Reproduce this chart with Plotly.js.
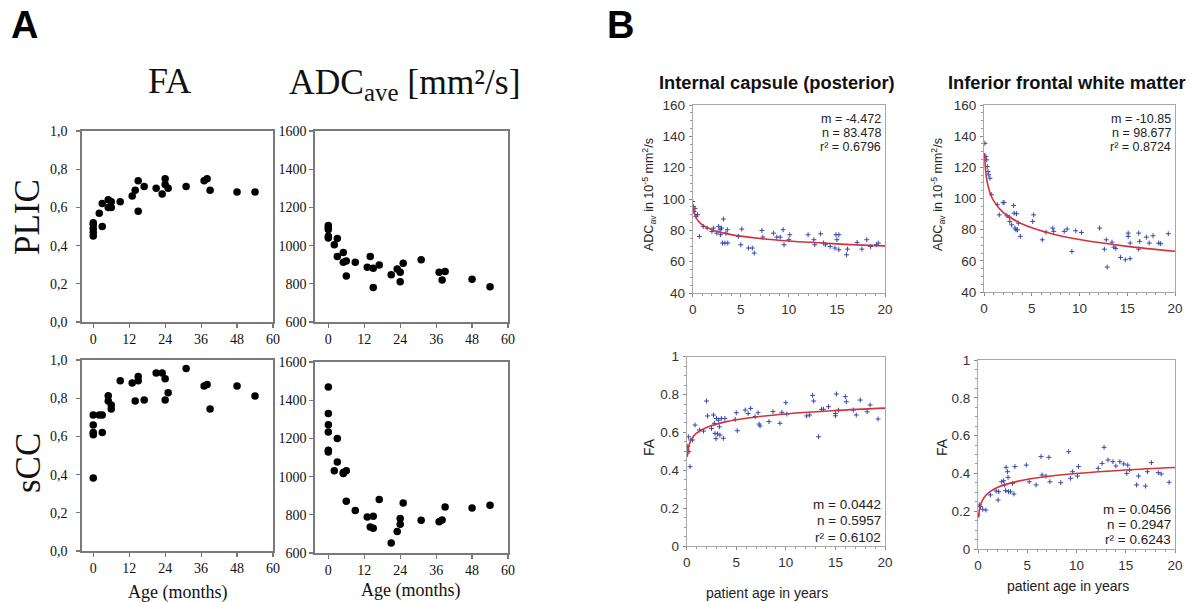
<!DOCTYPE html>
<html>
<head>
<meta charset="utf-8">
<script src="https://cdn.plot.ly/plotly-3.0.1.min.js"></script>
<style>html,body{margin:0;padding:0;background:#fff;}#chart{width:1198px;height:602px;}</style>
</head>
<body>
<div id="chart"></div>
<script>
// ---------------- Panel A data (age in months) ----------------
var plicFAMonths = [0,0,0,0,0,2,3,3,5,5,6,6,9,13,14,15,15,17,21,23,24,24,25,31,37,38,39,48,54];
var plicFA = [0.52,0.51,0.49,0.47,0.45,0.57,0.50,0.62,0.64,0.60,0.63,0.60,0.63,0.66,0.69,0.74,0.58,0.71,0.70,0.67,0.75,0.72,0.70,0.71,0.74,0.75,0.69,0.68,0.68];

var plicADCMonths = [0,0,0,0,0,2,3,3,5,5,6,6,9,13,14,15,15,17,21,23,24,24,25,31,37,38,39,48,54];
var plicADC = [1105,1093,1084,1049,1040,1005,1037,943,964,913,920,841,913,887,943,882,781,898,848,878,861,811,908,926,861,820,864,824,785];

var sccFAMonths = [0,0,0,0,0,2,3,3,5,5,6,6,9,13,14,15,15,17,21,23,24,24,25,31,37,38,39,48,54];
var sccFA = [0.712,0.660,0.621,0.609,0.382,0.712,0.712,0.621,0.813,0.785,0.764,0.743,0.892,0.880,0.785,0.914,0.892,0.791,0.932,0.932,0.902,0.791,0.828,0.955,0.864,0.872,0.743,0.864,0.812];

var sccADCMonths = [0,0,0,0,0,0,2,3,3,5,5,6,6,9,13,14,15,15,17,21,23,24,24,25,31,37,38,39,48,54];
var sccADC = [1469,1330,1272,1234,1138,1129,1031,1199,1077,1022,1016,1031,871,823,788,736,792,729,880,652,713,780,750,862,771,764,773,841,836,850];

var monthTicks = [0,12,24,36,48,60];
var faTicksA = [0,0.2,0.4,0.6,0.8,1.0];
var faTickLabelsA = ['0,0','0,2','0,4','0,6','0,8','1,0'];
var adcTicksA = [600,800,1000,1200,1400,1600];

// ---------------- Panel B data (age in years) ----------------
var icADCYears = [0,0.07,0.14,0.24,0.35,0.5,0.7,1.1,1.5,2.0,2.15,2.5,2.7,2.85,2.9,3.0,3.1,3.2,3.35,3.45,3.6,3.65,4.75,5.0,5.1,5.8,6.2,6.4,7.2,7.3,8.4,8.75,9.1,9.4,9.5,10.0,10.1,12.0,12.6,12.7,13.3,13.6,13.8,14.3,14.8,14.9,15.0,15.2,15.2,16.0,16.1,17.1,17.6,18.1,18.5,19.1,19.3];
var icADC = [98.4,95.2,92.0,94.0,88.9,90.0,76.1,82.5,81.4,79.3,81.4,78.2,82.5,80.4,77.2,81.4,71.9,87.2,71.9,78.2,80.4,71.9,76.1,70.8,80.8,68.7,68.7,65.5,79.9,75.7,78.2,75.7,75.7,80.4,70.8,74.0,77.2,77.2,74.0,70.8,77.8,71.9,70.8,69.7,68.7,77.2,74.0,67.6,77.2,64.4,68.0,72.3,68.0,74.0,69.7,70.8,71.9];

var ifwmADCYears = [0.1,0.2,0.28,0.35,0.42,0.5,0.63,0.8,1.4,2.0,2.1,1.6,2.4,2.65,2.7,2.9,3.1,3.15,3.25,3.35,3.4,3.5,3.6,3.8,5.2,5.1,6.1,6.5,7.2,7.3,8.4,8.7,9.2,9.6,10.2,12.1,12.6,12.8,12.9,13.4,13.6,13.8,14.3,14.8,15.1,15.1,15.3,15.3,16.2,16.2,16.3,17.0,17.3,17.7,18.3,18.5,19.3];
var ifwmADC = [135.4,126.9,124.8,120.5,117.3,115.2,113.0,102.4,96.0,97.4,97.4,89.5,88.9,88.0,85.3,83.1,95.5,90.6,81.0,79.9,90.2,79.9,84.2,75.7,89.5,85.3,73.5,78.4,81.0,78.9,78.9,80.4,66.0,79.3,78.2,81.0,67.5,73.5,56.0,72.0,68.8,68.0,62.2,60.7,77.8,75.7,61.4,71.4,77.8,67.5,72.5,75.2,71.4,76.1,71.4,71.0,77.4];

var icFAYears = [0,0.1,0.17,0.23,0.34,0.4,0.6,0.84,1.3,1.7,2.0,2.1,2.5,2.7,2.8,2.85,2.95,3.0,3.1,3.2,3.3,3.35,3.5,3.7,3.85,4.9,5.0,5.1,5.9,6.2,6.45,6.9,7.2,7.3,7.4,8.3,8.7,9.4,9.6,10.0,10.1,12.1,12.4,12.7,12.8,13.3,13.6,13.8,14.3,15.0,15.0,15.1,15.3,16.0,16.1,16.8,17.1,17.5,18.2,18.5,19.3];
var icFA = [0.507,0.525,0.577,0.498,0.419,0.56,0.56,0.639,0.613,0.607,0.766,0.687,0.621,0.692,0.648,0.595,0.567,0.674,0.592,0.665,0.630,0.586,0.674,0.569,0.674,0.669,0.704,0.609,0.718,0.700,0.727,0.683,0.704,0.644,0.634,0.657,0.710,0.648,0.706,0.757,0.697,0.687,0.692,0.796,0.766,0.577,0.722,0.722,0.736,0.700,0.688,0.803,0.718,0.789,0.762,0.718,0.692,0.771,0.709,0.745,0.671];

var ifwmFAYears = [0,0.14,0.24,0.48,0.8,1.26,1.84,2.04,2.1,2.4,2.6,2.7,2.8,2.85,3.0,3.05,3.1,3.3,3.5,3.65,3.75,4.9,5.2,5.9,6.4,6.5,6.9,7.2,7.3,8.4,9.2,9.4,9.6,10.1,10.2,12.2,12.6,12.8,13.2,13.7,14.0,14.4,14.8,15.1,15.2,15.4,16.1,16.3,17.0,17.2,17.6,18.3,18.6,19.4];
var ifwmFA = [0.18,0.233,0.224,0.21,0.206,0.286,0.307,0.259,0.303,0.356,0.361,0.339,0.309,0.432,0.409,0.379,0.303,0.303,0.347,0.291,0.436,0.444,0.356,0.339,0.489,0.392,0.386,0.485,0.356,0.351,0.515,0.374,0.409,0.386,0.436,0.427,0.453,0.538,0.471,0.462,0.439,0.462,0.45,0.40,0.444,0.418,0.339,0.386,0.333,0.409,0.457,0.404,0.397,0.353];

// fitted (red) curves
var fitYears = [0.06,0.15,0.3,0.6,1,2,4,7,10,15,20];
var icADCFit = [96.1,91.96,88.86,85.76,83.48,80.38,77.28,74.78,73.18,71.37,70.08];
var ifwmADCFit = [129.2,119.26,111.74,104.22,98.68,91.16,83.64,77.56,73.69,69.29,66.17];
var icFAFit = [0.471,0.512,0.5425,0.573,0.5957,0.6263,0.657,0.6817,0.6975,0.7154,0.7281];
var ifwmFAFit = [0.167,0.2082,0.2398,0.2714,0.2947,0.3263,0.3579,0.3834,0.3997,0.4182,0.4313];

var yearTicks = [0,5,10,15,20];
var adcTicksB = [40,60,80,100,120,140,160];
var faTicksB = [0,0.2,0.4,0.6,0.8,1];
var faTickLabelsB = ['0','0.2','0.4','0.6','0.8','1'];

var statsB = [
  ['m = -4.472','n = 83.478','r\u00b2 = 0.6796'],
  ['m = -10.85','n = 98.677','r\u00b2 = 0.8724'],
  ['m = 0.0442','n = 0.5957','r\u00b2 = 0.6102'],
  ['m = 0.0456','n = 0.2947','r\u00b2 = 0.6243']
];

// ---------------- layout helpers (pixel -> paper) ----------------
var W = 1198, H = 602;
function fx(p){ return p / W; }
function fy(p){ return 1 - p / H; }

var SERIF = 'Liberation Serif, Times New Roman, serif';
var SANS = 'Liberation Sans, Arial, sans-serif';

var traces = [];
function dots(x, y, xa, ya){
  traces.push({type:'scatter', mode:'markers', x:x, y:y, xaxis:xa, yaxis:ya,
    marker:{color:'#000', size:7.5, symbol:'circle'}});
}
dots(plicFAMonths, plicFA, 'x', 'y');
dots(plicADCMonths, plicADC, 'x2', 'y2');
dots(sccFAMonths, sccFA, 'x3', 'y3');
dots(sccADCMonths, sccADC, 'x4', 'y4');

function crosses(x, y, n){
  traces.push({type:'scatter', mode:'markers', x:x, y:y, xaxis:'x'+n, yaxis:'y'+n,
    marker:{color:'#3448b0', size:3.5, symbol:'cross-thin', line:{width:1, color:'#3448b0'}}});
}
function fit(y, n){
  traces.push({type:'scatter', mode:'lines', x:fitYears, y:y, xaxis:'x'+n, yaxis:'y'+n,
    line:{color:'#d0343a', width:1.6, shape:'spline', smoothing:1.0}});
}
crosses(icADCYears, icADC, 5); fit(icADCFit, 5);
crosses(ifwmADCYears, ifwmADC, 6); fit(ifwmADCFit, 6);
crosses(icFAYears, icFA, 7); fit(icFAFit, 7);
crosses(ifwmFAYears, ifwmFA, 8); fit(ifwmFAFit, 8);

var layout = {
  width: W, height: H, autosize:false,
  margin:{l:0,r:0,t:0,b:0,pad:0},
  paper_bgcolor:'#fff', plot_bgcolor:'#fff',
  showlegend:false,
  annotations:[]
};

function axA(dom, range, tickvals, ticktext, anchor, standoff){
  var a = {domain:dom, range:range, tickmode:'array', tickvals:tickvals,
    ticks:'outside', ticklen:4, tickwidth:1.2, tickcolor:'#777',
    showline:true, mirror:true, linecolor:'#7a7a7a', linewidth:1.6,
    showgrid:false, zeroline:false, anchor:anchor, fixedrange:true,
    ticklabelstandoff: standoff,
    tickfont:{family:SERIF, size:14, color:'#111'}};
  if (ticktext) a.ticktext = ticktext;
  return a;
}
// Panel A: pixel boxes
var AL = [82,273], AR = [315,508];
var AT = [131,322], AB1 = [360,551], AB2 = [362,553];
layout.xaxis  = axA([fx(AL[0]),fx(AL[1])], [-3.76,60], monthTicks, null, 'y', 0);
layout.yaxis  = axA([fy(AT[1]),fy(AT[0])], [0,1], faTicksA, faTickLabelsA, 'x', 6);
layout.xaxis2 = axA([fx(AR[0]),fx(AR[1])], [-4.45,60], monthTicks, null, 'y2', 0);
layout.yaxis2 = axA([fy(AT[1]),fy(AT[0])], [600,1600], adcTicksA, null, 'x2', 0);
layout.xaxis3 = axA([fx(AL[0]),fx(AL[1])], [-3.76,60], monthTicks, null, 'y3', 0);
layout.yaxis3 = axA([fy(AB1[1]),fy(AB1[0])], [0,1], faTicksA, faTickLabelsA, 'x3', 6);
layout.xaxis4 = axA([fx(AR[0]),fx(AR[1])], [-4.45,60], monthTicks, null, 'y4', 0);
layout.yaxis4 = axA([fy(AB2[1]),fy(AB2[0])], [600,1600], adcTicksA, null, 'x4', 0);

function axB(dom, range, tickvals, ticktext, anchor, minorDtick){
  var a = {domain:dom, range:range, tickmode:'array', tickvals:tickvals,
    ticks:'outside', ticklen:3, tickwidth:1, tickcolor:'#888',
    minor:{dtick:minorDtick, tick0:0, ticks:'outside', ticklen:2, tickcolor:'#999', showgrid:false},
    showline:true, mirror:true, linecolor:'#a8a8a8', linewidth:1,
    showgrid:false, zeroline:false, anchor:anchor, fixedrange:true,
    ticklabelstandoff: 1,
    tickfont:{family:SANS, size:13.5, color:'#333'}};
  if (ticktext) a.ticktext = ticktext;
  return a;
}
layout.xaxis5 = axB([fx(692.7),fx(885)], [0,20], yearTicks, null, 'y5', 1);
layout.yaxis5 = axB([fy(293),fy(105)], [40,160], adcTicksB, null, 'x5', 5);
layout.xaxis6 = axB([fx(984),fx(1175)], [0,20], yearTicks, null, 'y6', 1);
layout.yaxis6 = axB([fy(292),fy(105)], [40,160], adcTicksB, null, 'x6', 5);
layout.xaxis7 = axB([fx(686.7),fx(885)], [0,20], yearTicks, null, 'y7', 1);
layout.yaxis7 = axB([fy(546),fy(356.7)], [0,1], faTicksB, faTickLabelsB, 'x7', 0.05);
layout.xaxis8 = axB([fx(978),fx(1175)], [0,20], yearTicks, null, 'y8', 1);
layout.yaxis8 = axB([fy(549),fy(360)], [0,1], faTicksB, faTickLabelsB, 'x8', 0.05);

function ann(text, px, py, font, opts){
  var a = {text:text, x:fx(px), y:fy(py), xref:'paper', yref:'paper', showarrow:false,
    xanchor:'center', yanchor:'middle', font:font};
  for (var k in (opts||{})) a[k] = opts[k];
  layout.annotations.push(a);
}
ann('<b>A</b>', 24, 25, {family:SANS, size:38, color:'#000'});
ann('<b>B</b>', 620, 25, {family:SANS, size:38, color:'#000'});
ann('FA', 169, 81, {family:SERIF, size:36, color:'#111'});
ann('ADC<sub>ave</sub> [mm\u00b2/s]', 405, 84, {family:SERIF, size:35.5, color:'#111'});
ann('PLIC', 28, 217, {family:SERIF, size:35, color:'#111'}, {textangle:-90});
ann('sCC', 28, 463, {family:SERIF, size:35, color:'#111'}, {textangle:-90});
ann('Age (months)', 177, 592, {family:SERIF, size:18, color:'#111'});
ann('Age (months)', 410, 590, {family:SERIF, size:18, color:'#111'});

ann('<b>Internal capsule (posterior)</b>', 776.7, 83, {family:SANS, size:18.3, color:'#111'});
ann('<b>Inferior frontal white matter</b>', 1066.7, 83, {family:SANS, size:18.3, color:'#111'});
ann('ADC<sub>av</sub> in 10<sup>-5</sup> mm<sup>2</sup>/s', 649, 195, {family:SANS, size:12.5, color:'#222'}, {textangle:-90});
ann('ADC<sub>av</sub> in 10<sup>-5</sup> mm<sup>2</sup>/s', 938, 195, {family:SANS, size:12.5, color:'#222'}, {textangle:-90});
ann('FA', 649, 447, {family:SANS, size:14, color:'#222'}, {textangle:-90});
ann('FA', 942, 447, {family:SANS, size:14, color:'#222'}, {textangle:-90});
ann('patient age in years', 767, 593, {family:SANS, size:14, color:'#222'});
ann('patient age in years', 1068, 586, {family:SANS, size:14, color:'#222'});

function stats(lines, right, ys, size){
  for (var i = 0; i < lines.length; i++) {
    ann(lines[i], right, ys[i], {family:SANS, size:size, color:'#222'}, {xanchor:'right', borderpad:0});
  }
}
stats(statsB[0], 882, [119, 133, 147], 12.5);
stats(statsB[1], 1172, [119, 133, 147], 12.5);
stats(statsB[2], 882, [504, 520.5, 537], 13.5);
stats(statsB[3], 1172, [509.5, 524.5, 539.5], 13.5);

Plotly.newPlot('chart', traces, layout, {displayModeBar:false, staticPlot:true});
</script>
</body>
</html>
